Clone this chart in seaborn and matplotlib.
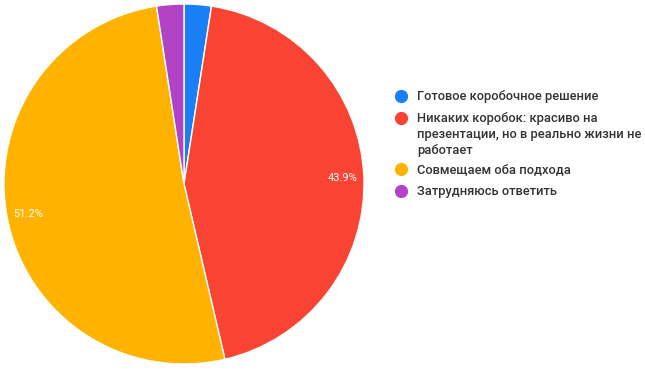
import matplotlib
matplotlib.use("Agg")
import matplotlib.pyplot as plt
import seaborn as sns

labels = [
    "Готовое коробочное решение",
    "Никаких коробок: красиво на\nпрезентации, но в реально жизни не\nработает",
    "Совмещаем оба подхода",
    "Затрудняюсь ответить",
]
shares = [2.44, 43.9, 51.2, 2.44]
colors = ["#1a7ef5", "#f94434", "#ffb300", "#b143c4"]

W, H = 645, 372

sns.set_theme(style="white")
plt.rcParams["font.family"] = ["Roboto", "DejaVu Sans"]

fig = plt.figure(figsize=(W / 100, H / 100), dpi=100)
ax = fig.add_axes([4 / W, 8 / H, 360 / W, 360 / H])


def fmt(p):
    return f"{p:.1f}%" if p > 5 else ""


wedges, texts, autotexts = ax.pie(
    shares, colors=colors, startangle=90, counterclock=False,
    autopct=fmt, pctdistance=0.88,
    wedgeprops=dict(edgecolor="white", linewidth=1),
    textprops=dict(color="white", fontsize=8),
)
ax.set_xlim(-1, 1)
ax.set_ylim(-1, 1)

# legend drawn by hand so the marker sits on the first line of wrapped labels
leg = fig.add_axes([0, 0, 1, 1])
leg.set_xlim(0, W)
leg.set_ylim(H, 0)
leg.axis("off")
y = 96
for lab, c in zip(labels, colors):
    leg.plot(401, y, marker="o", markersize=8.5, color=c, linestyle="")
    leg.text(417, y - 6, lab, va="top", ha="left", fontsize=9.3,
             fontweight="medium", color="#333333", linespacing=1.32)
    y += 22 + 14.5 * lab.count("\n")

fig.savefig("out.png", dpi=100)
